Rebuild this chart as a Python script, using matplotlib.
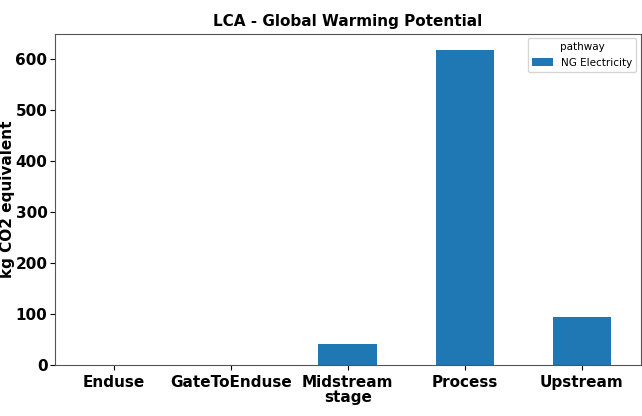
import matplotlib
matplotlib.use('Agg')
import matplotlib.pyplot as plt
import numpy as np

# values
stages = ['Enduse', 'GateToEnduse', 'Midstream', 'Process', 'Upstream']
ng_electricity = [0.3, 0.3, 41, 617, 94]
pathway_name = 'NG Electricity'

fig = plt.figure(figsize=(6.42, 4.16), dpi=100)
ax = fig.add_axes([0.0857, 0.123, 0.912, 0.795])

x = np.arange(len(stages))
ax.bar(x, ng_electricity, width=0.5, color='#1f77b4', label=pathway_name)

ax.set_xlim(-0.5, len(stages) - 0.5)
ax.set_ylim(0, max(ng_electricity) * 1.05)
ax.set_xticks(x)
ax.set_xticklabels(stages, rotation=0)
ax.tick_params(axis='both', labelsize=11)
ax.tick_params(axis='y', pad=2)
plt.setp(ax.get_xticklabels(), fontweight='bold')
plt.setp(ax.get_yticklabels(), fontweight='bold')

ax.set_xlabel('stage', fontsize=11, fontweight='bold', labelpad=0)
ax.set_ylabel('kg CO2 equivalent', fontsize=11, fontweight='bold', labelpad=0)
ax.set_title('LCA - Global Warming Potential', fontsize=11, fontweight='bold')

for s in ax.spines.values():
    s.set_color('#555555')

ax.legend(title='pathway', fontsize=7.5, title_fontsize=7.5, loc='upper right',
          borderaxespad=0.4)

fig.savefig('out.png', dpi=100)
